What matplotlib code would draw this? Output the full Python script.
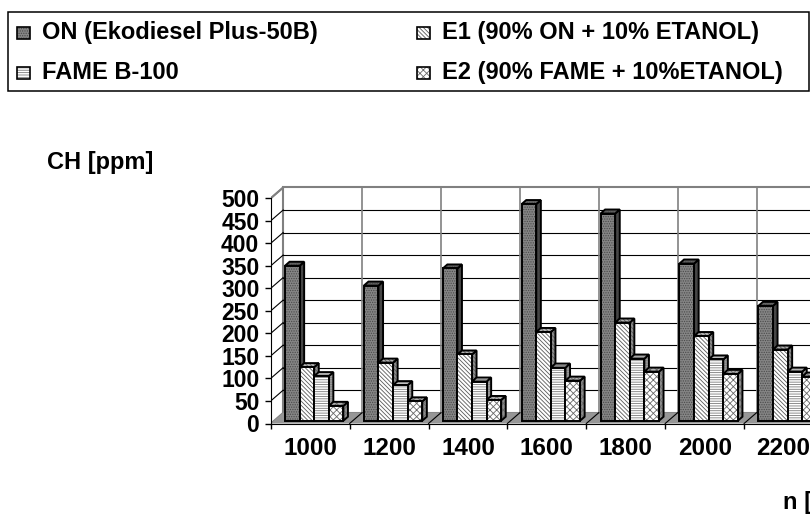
import matplotlib.pyplot as plt
from matplotlib.patches import Polygon, Rectangle

plt.rcParams['font.family'] = ['Liberation Sans', 'DejaVu Sans']
plt.rcParams['font.weight'] = 'bold'
plt.rcParams['hatch.linewidth'] = 0.6

# dane: emisja CH dla roznych predkosci obrotowych
obroty = ['1000', '1200', '1400', '1600', '1800', '2000', '2200']
serie = ['ON (Ekodiesel Plus-50B)', 'E1 (90% ON + 10% ETANOL)',
         'FAME B-100', 'E2 (90% FAME + 10%ETANOL)']
ch_on = [344, 300, 338, 481, 460, 349, 255]
ch_e1 = [119, 129, 147, 197, 218, 188, 158]
ch_fame = [99, 79, 87, 118, 138, 136, 109]
ch_e2 = [33, 43, 46, 89, 109, 104, 98]
y_ticks = list(range(0, 501, 50))

wartosci = [ch_on, ch_e1, ch_fame, ch_e2]
# (front, kolor kreskowania, wzor, bok, gora)
style = [
    ('#858585', '#4a4a4a', '.......', '#454545', '#656565'),
    ('#ffffff', '#5a5a5a', '\\\\\\\\\\\\\\\\', '#8c8c8c', '#b0b0b0'),
    ('#ffffff', '#7a7a7a', '-------', '#9a9a9a', '#c0c0c0'),
    ('#ffffff', '#6a6a6a', 'xxxxx', '#8c8c8c', '#b0b0b0'),
]

W, H = 810, 517
fig = plt.figure(figsize=(W / 100, H / 100), dpi=100)

def fx(px):
    return px / W

def fy(py):
    return 1 - py / H

# geometria "3D" w jednostkach danych
DX, DY = 0.158, 24.0       # glebokosc scian
BDX, BDY = 0.058, 8.9      # glebokosc slupka
SX, SY = 0.041, 6.2        # przesuniecie slupkow w glab
OFF, BW = 0.14, 0.185

PX_CAT, PX_UNIT = 78.9, 0.4504
XMAX, YMAX = 7.3, 530
ax = fig.add_axes([fx(270.7), 1 - 423.5 / H, XMAX * PX_CAT / W, YMAX * PX_UNIT / H])
ax.set_xlim(0, XMAX)
ax.set_ylim(0, YMAX)
n = len(obroty)

# sciana boczna, tylna i podloga
ax.add_patch(Polygon([(0, 0), (DX, DY), (DX, 500 + DY), (0, 500)],
                     facecolor='white', edgecolor='#808080', lw=1.2, zorder=1))
ax.add_patch(Rectangle((DX, DY), n + 0.5, 500, facecolor='white',
                       edgecolor='#808080', lw=1.5, zorder=1))
ax.add_patch(Polygon([(0, 0), (n + 0.5, 0), (n + 0.5 + DX, DY), (DX, DY)],
                     facecolor='#969696', edgecolor='none', zorder=1))
for v in y_ticks[1:-1]:
    ax.plot([DX, n + 0.5 + DX], [v + DY, v + DY], color='black', lw=0.8, zorder=1.5)
    ax.plot([0, DX], [v, v + DY], color='black', lw=0.8, zorder=1.5)
ax.plot([0, DX], [500, 500 + DY], color='#808080', lw=1.5, zorder=1.5)
for k in range(1, n + 1):
    ax.plot([k + DX, k + DX], [DY, 500 + DY], color='#808080', lw=1.2, zorder=1.5)
    ax.plot([k, k + DX], [0, DY], color='black', lw=0.8, zorder=1.5)

# slupki
for i in range(n):
    for s, vals in enumerate(wartosci):
        fc, hc, h, side, top = style[s]
        v = vals[i]
        x0 = i + SX + OFF + s * BW
        x1 = x0 + BW
        b = SY
        t = SY + v
        bok = [(x1, b), (x1 + BDX, b + BDY), (x1 + BDX, t + BDY), (x1, t)]
        gora = [(x0, t), (x1, t), (x1 + BDX, t + BDY), (x0 + BDX, t + BDY)]
        for poly, col in ((bok, side), (gora, top)):
            ax.add_patch(Polygon(poly, facecolor=col, edgecolor=hc, hatch=h,
                                 lw=0, zorder=3))
            ax.add_patch(Polygon(poly, fill=False, edgecolor='black', lw=1.4,
                                 joinstyle='miter', zorder=3))
        ax.bar(x0, v, width=BW, bottom=b, align='edge', color=fc,
               edgecolor=hc, hatch=h, lw=0, zorder=3)
        ax.bar(x0, v, width=BW, bottom=b, align='edge', fill=False,
               edgecolor='black', lw=1.4, joinstyle='miter', zorder=3)

# osie
for sp in ('top', 'right'):
    ax.spines[sp].set_visible(False)
ax.spines['left'].set_bounds(0, 500)
ax.spines['bottom'].set_bounds(0, n)
ax.spines['left'].set_zorder(4)
ax.spines['bottom'].set_zorder(4)
ax.set_yticks(y_ticks)
ax.set_yticklabels([str(v) for v in y_ticks])
ax.tick_params(axis='y', length=4.3, pad=3.9, labelsize=16.5, width=1)
ax.set_xticks(range(n + 1))
ax.set_xticklabels([''] * (n + 1))
ax.set_xticks([i + 0.5 for i in range(n)], minor=True)
ax.set_xticklabels(obroty, minor=True)
ax.tick_params(axis='x', which='major', length=3.4, width=1)
ax.tick_params(axis='x', which='minor', length=0, pad=9.5, labelsize=17.5)

fig.text(fx(100.5), fy(163), 'CH [ppm]', fontsize=17, ha='center', va='center')
# opis osi X jest w oryginale przyciety prawa krawedzia
fig.text(fx(783), fy(503), 'n [obr/min]', fontsize=17, ha='left', va='center')

# legenda
fig.patches.append(Rectangle((fx(8), fy(91)), fx(801), 79 / H, transform=fig.transFigure,
                             facecolor='white', edgecolor='black', lw=1.1, zorder=5))
pozycje = [(17, 32.5), (417, 32.5), (17, 72.5), (417, 72.5)]
for s, (px, py) in enumerate(pozycje):
    fc, hc, h, side, top = style[s]
    fig.patches.append(Rectangle((fx(px), fy(py + 6)), 13 / W, 12 / H,
                                 transform=fig.transFigure, facecolor=fc,
                                 edgecolor=hc, hatch=h, lw=0, zorder=6))
    fig.patches.append(Rectangle((fx(px), fy(py + 6)), 13 / W, 12 / H,
                                 transform=fig.transFigure, fill=False,
                                 edgecolor='black', lw=1.2, zorder=6))
    fig.text(fx(px + 25), fy(py), serie[s], fontsize=17, ha='left', va='center', zorder=7)

fig.savefig('out.png', dpi=100)
